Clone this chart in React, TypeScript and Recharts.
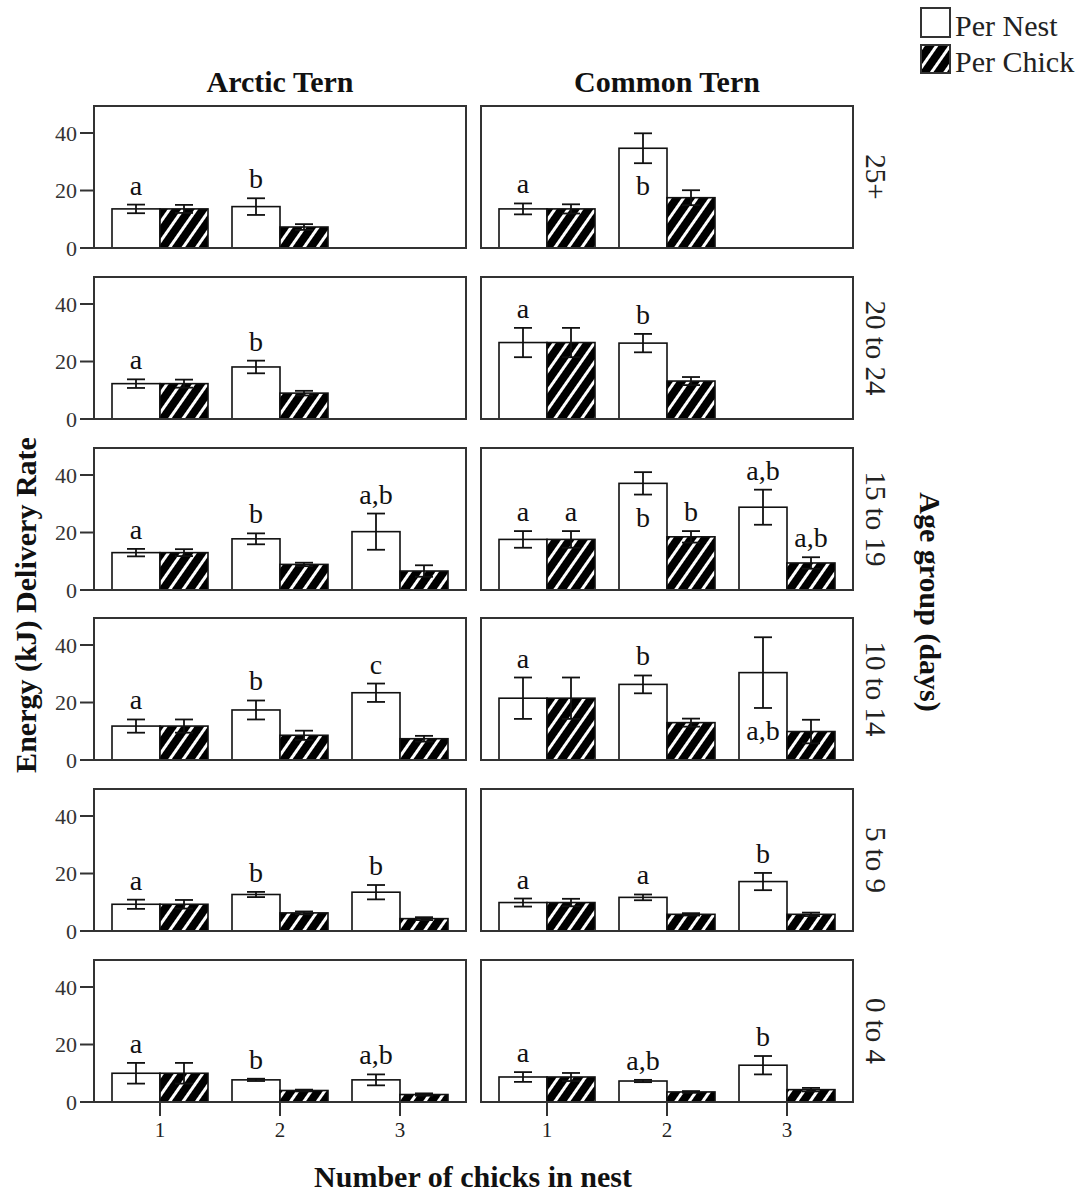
import { BarChart, Bar, XAxis, YAxis, ErrorBar } from 'recharts';

const FONT = '"Liberation Serif", "Times New Roman", serif';

const ageGroups = ['25+', '20 to 24', '15 to 19', '10 to 14', '5 to 9', '0 to 4'];
const chickCounts = ['1', '2', '3'];

// rows follow ageGroups, columns follow chickCounts (null = no nests of that size)
const arcticNest = [
  [13.6, 14.4, null],
  [12.3, 18.1, null],
  [13.0, 17.8, 20.3],
  [11.8, 17.4, 23.4],
  [9.3, 12.7, 13.5],
  [10.0, 7.7, 7.7],
];
const arcticNestSE = [
  [1.5, 2.9, null],
  [1.5, 2.2, null],
  [1.3, 1.9, 6.3],
  [2.3, 3.3, 3.2],
  [1.6, 0.9, 2.5],
  [3.6, 0.4, 1.9],
];
const arcticChick = [
  [13.6, 7.3, null],
  [12.3, 9.0, null],
  [13.0, 8.9, 6.6],
  [11.8, 8.6, 7.4],
  [9.3, 6.3, 4.3],
  [10.0, 4.0, 2.6],
];
const arcticChickSE = [
  [1.4, 1.0, null],
  [1.4, 0.8, null],
  [1.2, 0.6, 2.0],
  [2.3, 1.6, 1.0],
  [1.5, 0.5, 0.5],
  [3.6, 0.3, 0.4],
];
const arcticNestLetters = [
  ['a', 'b', ''],
  ['a', 'b', ''],
  ['a', 'b', 'a,b'],
  ['a', 'b', 'c'],
  ['a', 'b', 'b'],
  ['a', 'b', 'a,b'],
];

const commonNest = [
  [13.6, 34.7, null],
  [26.6, 26.4, null],
  [17.6, 37.1, 28.8],
  [21.5, 26.3, 30.4],
  [9.9, 11.7, 17.2],
  [8.7, 7.3, 12.8],
];
const commonNestSE = [
  [1.9, 5.2, null],
  [5.1, 3.2, null],
  [2.9, 3.9, 6.1],
  [7.2, 3.1, 12.3],
  [1.4, 1.0, 3.0],
  [1.7, 0.4, 3.2],
];
const commonChick = [
  [13.6, 17.5, null],
  [26.6, 13.2, null],
  [17.6, 18.5, 9.4],
  [21.5, 13.0, 9.9],
  [9.9, 5.8, 5.8],
  [8.7, 3.5, 4.3],
];
const commonChickSE = [
  [1.6, 2.6, null],
  [5.1, 1.4, null],
  [2.9, 2.0, 2.0],
  [7.2, 1.4, 4.1],
  [1.3, 0.4, 0.6],
  [1.4, 0.3, 0.6],
];
const commonNestLetters = [
  ['a', 'b', ''],
  ['a', 'b', ''],
  ['a', 'b', 'a,b'],
  ['a', 'b', 'a,b'],
  ['a', 'a', 'b'],
  ['a', 'a,b', 'b'],
];
const commonChickLetters = [
  ['', '', ''],
  ['', '', ''],
  ['a', 'b', 'a,b'],
  ['', '', ''],
  ['', '', ''],
  ['', '', ''],
];
// letters printed inside the Per Nest bar, below its error bar
const commonNestLetterInside = [
  [false, true, false],
  [false, false, false],
  [false, true, false],
  [false, false, true],
  [false, false, false],
  [false, false, false],
];

const species = [
  {
    key: 'arctic', title: 'Arctic Tern',
    nest: arcticNest, nestSE: arcticNestSE, chick: arcticChick, chickSE: arcticChickSE,
    nestLetters: arcticNestLetters, chickLetters: null, inside: null,
  },
  {
    key: 'common', title: 'Common Tern',
    nest: commonNest, nestSE: commonNestSE, chick: commonChick, chickSE: commonChickSE,
    nestLetters: commonNestLetters, chickLetters: commonChickLetters, inside: commonNestLetterInside,
  },
];

const PLOT_W = 372;
const PLOT_H = 142;
const plotLefts = [94, 481];
const plotTop = (r: number) => Math.round(106 + r * 170.8);

const buildRows = (sp: any, r: number) =>
  chickCounts.map((c, i) => ({
    chicks: c,
    nest: sp.nest[r][i],
    nestErr: sp.nestSE[r][i],
    nestLetter: sp.nestLetters[r][i],
    nestInside: sp.inside ? sp.inside[r][i] : false,
    chick: sp.chick[r][i],
    chickErr: sp.chickSE[r][i],
    chickLetter: sp.chickLetters ? sp.chickLetters[r][i] : '',
    chickInside: false,
  }));

const barShape = (kind: string, fill: string) => (props: any) => {
  const { x, y, width, height, payload } = props;
  const val = payload[kind];
  if (val == null) return null;
  const err = payload[kind + 'Err'] || 0;
  const perUnit = val ? height / val : 0;
  const errTop = y - err * perUnit;
  const errBottom = y + err * perUnit;
  const letter = payload[kind + 'Letter'];
  const inside = payload[kind + 'Inside'];
  return (
    <g>
      <rect x={x} y={y} width={width} height={height} fill={fill} stroke="#111" strokeWidth={1.6} />
      {letter ? (
        <text
          x={x + width / 2}
          y={inside ? errBottom + 32 : errTop - 10}
          textAnchor="middle"
          fontFamily={FONT}
          fontSize={28}
          fill="#111"
        >
          {letter}
        </text>
      ) : null}
    </g>
  );
};

function Panel({ col, r }: { col: number; r: number }) {
  const sp = species[col];
  const data = buildRows(sp, r);
  const isLeft = col === 0;
  const isBottom = r === ageGroups.length - 1;
  const yW = isLeft ? 54 : 0;
  const xH = isBottom ? 44 : 0;
  const mLeft = isLeft ? 0 : 2;
  const mBottom = isBottom ? 2 : 14;
  const width = mLeft + yW + PLOT_W + 2;
  const height = 2 + PLOT_H + xH + mBottom;
  const hatchId = `hatch-${sp.key}-${r}`;
  const axisStroke = { stroke: '#333', strokeWidth: 2 };

  return (
    <>
      <div style={{ position: 'absolute', left: plotLefts[col] - yW - mLeft, top: plotTop(r) - 2 }}>
        <BarChart
          width={width}
          height={height}
          data={data}
          margin={{ top: 2, right: 2, bottom: mBottom, left: mLeft }}
          barCategoryGap={12}
          barGap={0}
        >
          <defs>
            <pattern id={hatchId} patternUnits="userSpaceOnUse" width="11" height="11" patternTransform="rotate(35)">
              <rect width="11" height="11" fill="#000" />
              <rect x="0" y="0" width="3" height="11" fill="#fff" />
            </pattern>
          </defs>
          <XAxis
            dataKey="chicks"
            height={xH}
            padding={{ left: 6, right: 6 }}
            axisLine={axisStroke}
            tick={isBottom ? { fill: '#222', fontSize: 21, fontFamily: FONT } : false}
            tickLine={isBottom ? axisStroke : false}
            tickSize={14}
            tickMargin={6}
          />
          <YAxis
            domain={[0, 49.4]}
            ticks={[0, 20, 40]}
            width={yW}
            axisLine={axisStroke}
            tick={isLeft ? { fill: '#333', fontSize: 22, fontFamily: FONT } : false}
            tickLine={isLeft ? axisStroke : false}
            tickSize={14}
            tickMargin={3}
            interval={0}
          />
          <Bar dataKey="nest" name="Per Nest" fill="#fff" shape={barShape('nest', '#fff')} isAnimationActive={false}>
            <ErrorBar dataKey="nestErr" width={9} stroke="#111" strokeWidth={1.8} />
          </Bar>
          <Bar dataKey="chick" name="Per Chick" fill={`url(#${hatchId})`} shape={barShape('chick', `url(#${hatchId})`)} isAnimationActive={false}>
            <ErrorBar dataKey="chickErr" width={9} stroke="#111" strokeWidth={1.8} />
          </Bar>
        </BarChart>
      </div>
      {/* panel frame */}
      <div
        style={{
          position: 'absolute',
          left: plotLefts[col] - 1,
          top: plotTop(r) - 1,
          width: PLOT_W + 2,
          height: PLOT_H + 2,
          boxSizing: 'border-box',
          border: '2px solid #333',
          pointerEvents: 'none',
        }}
      />
    </>
  );
}

export default function App() {
  const bold = { fontFamily: FONT, fontWeight: 700, fontSize: 30, fill: '#111' } as const;
  return (
    <div style={{ position: 'absolute', left: 0, top: 0, width: 1088, height: 1193, background: '#fff' }}>
      <svg width={1088} height={1193} style={{ position: 'absolute', left: 0, top: 0 }}>
        <defs>
          <pattern id="hatch-legend" patternUnits="userSpaceOnUse" width="11" height="11" patternTransform="rotate(35)">
            <rect width="11" height="11" fill="#000" />
            <rect x="0" y="0" width="3" height="11" fill="#fff" />
          </pattern>
        </defs>
        {species.map((sp, i) => (
          <text key={sp.key} x={plotLefts[i] + PLOT_W / 2} y={92} textAnchor="middle" {...bold}>
            {sp.title}
          </text>
        ))}
        {ageGroups.map((g, r) => (
          <text
            key={g}
            transform={`translate(866, ${plotTop(r) + PLOT_H / 2}) rotate(90)`}
            textAnchor="middle"
            fontFamily={FONT}
            fontSize={29}
            fill="#222"
          >
            {g}
          </text>
        ))}
        <text transform="translate(920, 602) rotate(90)" textAnchor="middle" {...bold}>
          Age group (days)
        </text>
        <text transform="translate(36, 605) rotate(-90)" textAnchor="middle" {...bold}>
          Energy (kJ) Delivery Rate
        </text>
        <text x={473} y={1187} textAnchor="middle" {...bold}>
          Number of chicks in nest
        </text>
        <rect x={921} y={8} width={29} height={29} fill="#fff" stroke="#333" strokeWidth={2} />
        <rect x={921} y={45} width={29} height={28} fill="url(#hatch-legend)" stroke="#333" strokeWidth={2} />
        <text x={955} y={36} fontFamily={FONT} fontSize={30} fill="#222">Per Nest</text>
        <text x={955} y={72} fontFamily={FONT} fontSize={30} fill="#222">Per Chick</text>
      </svg>
      {ageGroups.map((g, r) =>
        species.map((sp, c) => <Panel key={`${sp.key}-${g}`} col={c} r={r} />)
      )}
    </div>
  );
}
